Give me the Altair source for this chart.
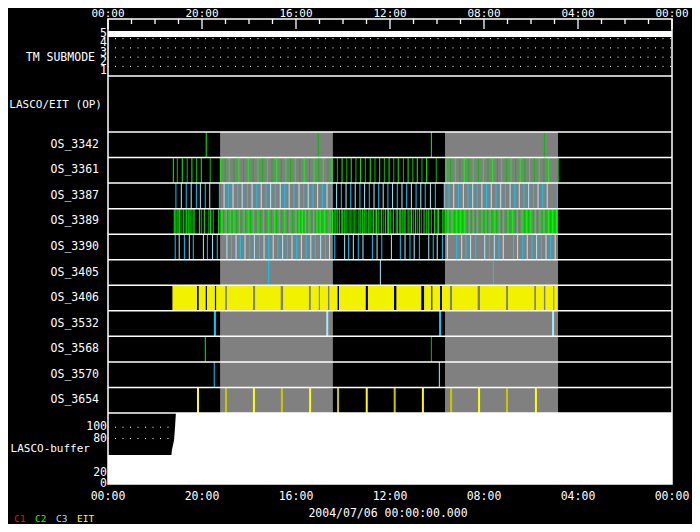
import altair as alt
import pandas as pd

# ---------------- data ----------------
major_hours = [0, 4, 8, 12, 16, 20, 24]
major_labels = ["00:00", "20:00", "16:00", "12:00", "08:00", "04:00", "00:00"]
minor_hours = [1, 2, 3, 5, 6, 7, 9, 10, 11, 13, 14, 15, 17, 18, 19, 21, 22, 23]

row_names = ["OS_3342", "OS_3361", "OS_3387", "OS_3389", "OS_3390", "OS_3405",
             "OS_3406", "OS_3532", "OS_3568", "OS_3570", "OS_3654"]
row_family = ["C2", "C2", "C3", "C2", "C3", "C3", "EIT", "C3", "C2", "C3", "EIT"]

os_3342 = [4.18, 8.95, 13.76, 18.57]
os_3361 = [2.78, 2.95, 3.16, 3.37, 3.57, 3.77, 3.97, 4.35, 4.78, 4.98, 5.16, 5.36, 5.57, 5.77,
           5.97, 6.18, 6.38, 6.58, 6.78, 6.98, 7.18, 7.37, 7.57, 7.77, 7.97, 8.16, 8.35, 8.57,
           8.77, 8.97, 9.16, 9.36, 9.54, 9.76, 9.96, 10.16, 10.35, 10.55, 10.75, 10.95, 11.16,
           11.36, 11.56, 11.76, 11.96, 12.16, 12.35, 12.57, 12.77, 12.97, 13.16, 13.36, 13.56,
           13.97, 14.38, 14.58, 14.78, 14.97, 15.16, 15.35, 15.54, 15.76, 15.97, 16.17, 16.37,
           16.57, 16.75, 16.95, 17.15, 17.35, 17.54, 17.74, 17.94, 18.14, 18.35, 18.55, 18.75,
           19.16]
os_3387 = [2.89, 3.12, 3.33, 3.54, 3.76, 3.93, 4.14, 4.33, 4.74, 4.94, 5.12, 5.32, 5.52, 5.71,
           5.93, 6.13, 6.33, 6.52, 6.72, 6.92, 7.12, 7.33, 7.52, 7.71, 7.91, 8.13, 8.33, 8.52,
           8.72, 8.92, 9.12, 9.32, 9.52, 9.73, 9.93, 10.13, 10.33, 10.52, 10.72, 10.92, 11.12,
           11.32, 11.52, 11.71, 11.91, 12.11, 12.31, 12.51, 12.71, 12.91, 13.11, 13.31, 13.50,
           13.72, 13.93, 14.31, 14.51, 14.71, 14.91, 15.12, 15.32, 15.52, 15.71, 15.91, 16.11,
           16.31, 16.51, 16.71, 16.91, 17.11, 17.31, 17.50, 17.70, 17.90, 18.10, 18.30, 18.50,
           18.69, 19.12]
os_3389 = [2.82, 2.88, 2.94, 2.99, 3.05, 3.11, 3.20, 3.28, 3.35, 3.43, 3.49, 3.54, 3.62, 3.67,
           3.89, 3.97, 4.10, 4.29, 4.37, 4.48, 4.71, 4.78, 4.85, 4.91, 5.03, 5.09, 5.20, 5.28,
           5.36, 5.48, 5.59, 5.66, 5.79, 5.86, 5.97, 6.07, 6.18, 6.30, 6.38, 6.50, 6.61, 6.72,
           6.84, 6.95, 7.08, 7.18, 7.29, 7.40, 7.52, 7.63, 7.74, 7.86, 8.00, 8.07, 8.13, 8.20,
           8.27, 8.34, 8.40, 8.48, 8.55, 8.68, 8.75, 8.84, 8.89, 8.97, 9.03, 9.11, 9.22, 9.31,
           9.45, 9.50, 9.56, 9.65, 9.70, 9.76, 9.84, 9.93, 9.99, 10.07, 10.13, 10.21, 10.30,
           10.38, 10.47, 10.55, 10.68, 10.75, 10.84, 10.92, 10.98, 11.09, 11.15, 11.23, 11.29,
           11.37, 11.43, 11.52, 11.63, 11.71, 11.80, 11.89, 11.94, 12.03, 12.14, 12.26, 12.31,
           12.40, 12.46, 12.54, 12.60, 12.65, 12.77, 12.85, 12.91, 12.99, 13.08, 13.16, 13.25,
           13.33, 13.45, 13.56, 13.65, 13.76, 13.90, 14.01, 14.06, 14.24, 14.30, 14.41, 14.47,
           14.55, 14.64, 14.75, 14.84, 14.92, 15.01, 15.09, 15.18, 15.29, 15.37, 15.46, 15.54,
           15.63, 15.71, 15.83, 15.91, 16.00, 16.09, 16.14, 16.26, 16.34, 16.46, 16.54, 16.65,
           16.74, 16.82, 16.94, 17.02, 17.11, 17.22, 17.33, 17.42, 17.50, 17.62, 17.73, 17.82,
           17.90, 17.99, 18.10, 18.18, 18.27, 18.38, 18.47, 18.55, 18.64, 18.75, 18.84, 18.92,
           19.01, 19.09]
os_3390 = [2.86, 3.03, 3.25, 3.46, 3.63, 4.06, 4.23, 4.45, 4.65, 5.06, 5.25, 5.45, 5.63, 5.83,
           6.03, 6.23, 6.44, 6.64, 6.84, 7.03, 7.23, 7.43, 7.63, 7.83, 8.03, 8.23, 8.43, 8.63,
           8.82, 9.05, 9.25, 9.43, 9.65, 10.07, 10.24, 10.44, 10.65, 10.85, 11.25, 11.45, 11.65,
           12.06, 12.44, 12.64, 12.85, 13.03, 13.25, 13.65, 13.84, 14.01, 14.23, 14.44, 14.84,
           15.05, 15.23, 15.43, 15.65, 16.03, 16.23, 16.44, 16.64, 16.82, 17.25, 17.43, 17.65,
           17.84, 18.04, 18.24, 18.44, 18.64, 18.84, 19.03]
os_3405 = [6.84, 11.59, 16.40]
os_3406_start = [2.74, 3.86, 4.21, 4.60, 5.06, 6.26, 7.45, 8.63, 9.02, 9.42, 9.83, 11.06, 12.27,
                 13.45, 13.80, 14.21, 14.64, 15.83, 17.02, 18.21, 18.61, 18.99]
os_3406_end = [3.79, 4.16, 4.55, 4.99, 6.17, 7.35, 8.55, 8.97, 9.36, 9.77, 10.97, 12.17, 13.33,
               13.76, 14.13, 14.55, 15.73, 16.94, 18.14, 18.55, 18.95, 19.14]
os_3532 = [4.55, 9.33, 14.13, 18.94]
os_3568 = [4.14, 13.76]
os_3570 = [4.52, 14.10]
os_3654 = [3.83, 5.02, 6.21, 7.40, 8.60, 9.79, 11.01, 12.20, 13.40, 14.60, 15.79, 16.98, 18.21]

row_events = {"OS_3342": os_3342, "OS_3361": os_3361, "OS_3387": os_3387,
              "OS_3389": os_3389, "OS_3390": os_3390, "OS_3405": os_3405,
              "OS_3532": os_3532, "OS_3568": os_3568, "OS_3570": os_3570,
              "OS_3654": os_3654}

shade_start = [4.77, 14.34]
shade_end = [9.57, 19.15]

submode_times = [0, 24]
submode_values = [5, 5]
submode_ticks = [1, 2, 3, 4, 5]
submode_grid = [1.5, 2.5, 3.5, 4.5]

buffer_times = [0, 2.70, 2.72, 2.81, 2.85, 2.89, 24]
buffer_values = [51, 51, 60, 77, 98, 125, 125]
buffer_ticks = [0, 20, 80, 100]
buffer_grid = [80, 100]

legend_names = ["C1", "C2", "C3", "EIT"]
date_label = "2004/07/06 00:00:00.000"

# ---------------- layout / style ----------------
W, H = 564, 465
TM_BOTTOM, OP_BOTTOM, OS_BOTTOM = 57, 113, 394
ROW_H = (OS_BOTTOM - OP_BOTTOM) / len(row_names)
FONT = "DejaVu Sans Mono"
palette = {"C2": ["#00ff00", "#00c000"], "C3": ["#00ccff", "#a8ecff"],
           "EIT": ["#ffff00", "#c8c800"]}
legend_colors = {"C1": "#ff0000", "C2": "#00ff00", "C3": "#a0e4ff", "EIT": "#ffff00"}

X = alt.Scale(domain=[0, 24], nice=False, zero=False)
YT = alt.Scale(domain=[0, H], range=[0, H], nice=False, zero=False)
YSUB = alt.Scale(domain=[1, 5], range=[52, 15], nice=False, zero=False)
YBUF = alt.Scale(domain=[0, 125], range=[H, OS_BOTTOM], nice=False, zero=False)

# events table
ev = []
for i, name in enumerate(row_names):
    if name not in row_events:
        continue
    fam = row_family[i]
    y0 = OP_BOTTOM + i * ROW_H
    w = 2 if name in ("OS_3654", "OS_3532") else 1.0
    for j, t in enumerate(row_events[name]):
        ev.append({"t": t, "y0": y0, "y1": y0 + ROW_H, "c": palette[fam][j % 2], "w": w})
ev_df = pd.DataFrame(ev)

i3406 = row_names.index("OS_3406")
band_df = pd.DataFrame({"s": os_3406_start, "e": os_3406_end,
                        "y0": OP_BOTTOM + i3406 * ROW_H, "y1": OP_BOTTOM + (i3406 + 1) * ROW_H})

shade_df = pd.DataFrame({"s": shade_start, "e": shade_end, "y0": OP_BOTTOM, "y1": OS_BOTTOM})

sep_y = [TM_BOTTOM, OP_BOTTOM] + [OP_BOTTOM + k * ROW_H for k in range(1, len(row_names) + 1)]
sep_df = pd.DataFrame({"y": sep_y})

labels = [{"name": "TM SUBMODE", "x": -13, "y": 39, "fs": 11.5},
          {"name": "LASCO/EIT (OP)", "x": -6, "y": 86, "fs": 11},
          {"name": "LASCO-buffer", "x": -18, "y": 430, "fs": 11}]
for i, name in enumerate(row_names):
    labels.append({"name": name, "x": -9, "y": OP_BOTTOM + (i + 0.5) * ROW_H, "fs": 11.5})
lab_df = pd.DataFrame(labels)

xenc = lambda f: alt.X(f, type="quantitative", scale=X, axis=None)

gray = alt.Chart(shade_df).mark_rect(color="#808080").encode(
    x=xenc("s"), x2="e", y=alt.Y("y0:Q", scale=YT, axis=None), y2="y1")

band = alt.Chart(band_df).mark_rect(color="#f2f200").encode(
    x=xenc("s"), x2="e", y=alt.Y("y0:Q", scale=YT, axis=None), y2="y1")

events = alt.Chart(ev_df).mark_rule().encode(
    x=xenc("t"), y=alt.Y("y0:Q", scale=YT, axis=None), y2="y1",
    color=alt.Color("c:N", scale=None), strokeWidth=alt.StrokeWidth("w:Q", scale=None))

seps = alt.Chart(sep_df).mark_rule(color="white", strokeWidth=1.5).encode(
    y=alt.Y("y:Q", scale=YT, axis=None), x=alt.value(0), x2=alt.value(W))

sub_grid = alt.Chart(pd.DataFrame({"v": submode_grid})).mark_rule(
    color="white", strokeDash=[1, 6.5], strokeDashOffset=-7, strokeWidth=1).encode(
    y=alt.Y("v:Q", scale=YSUB, axis=None), x=alt.value(0), x2=alt.value(W))

sub_line = alt.Chart(pd.DataFrame({"t": submode_times, "v": submode_values})).mark_line(
    color="white", strokeWidth=6, strokeCap="butt").encode(
    x=xenc("t"), y=alt.Y("v:Q", scale=YSUB, axis=None))

sub_lab = alt.Chart(pd.DataFrame({"v": submode_ticks})).mark_text(
    align="right", baseline="middle", color="white", font=FONT, fontSize=11.5).encode(
    x=alt.value(-1), y=alt.Y("v:Q", scale=YSUB, axis=None), text="v:Q")

buf_grid = alt.Chart(pd.DataFrame({"v": buffer_grid})).mark_rule(
    color="white", strokeDash=[1, 6.5], strokeDashOffset=-7, strokeWidth=1).encode(
    y=alt.Y("v:Q", scale=YBUF, axis=None), x=alt.value(0), x2=alt.value(W))

buf_area = alt.Chart(pd.DataFrame({"t": buffer_times, "v": buffer_values})).mark_area(
    color="white", opacity=1).encode(
    x=xenc("t"), y=alt.Y("v:Q", scale=YBUF, axis=None))

buf_lab = alt.Chart(pd.DataFrame({"v": buffer_ticks})).mark_text(
    align="right", baseline="middle", color="white", font=FONT, fontSize=11.5).encode(
    x=alt.value(-1), y=alt.Y("v:Q", scale=YBUF, axis=None), text="v:Q")

major_df = pd.DataFrame({"t": major_hours, "lab": major_labels})
tick_major = alt.Chart(major_df).mark_rule(color="white", strokeWidth=1.3).encode(
    x=xenc("t"), y=alt.value(0), y2=alt.value(10))
tick_minor = alt.Chart(pd.DataFrame({"t": minor_hours})).mark_rule(
    color="white", strokeWidth=1.3).encode(x=xenc("t"), y=alt.value(0), y2=alt.value(5))

top_lab = alt.Chart(major_df).mark_text(
    baseline="middle", color="white", font=FONT, fontSize=11).encode(
    x=xenc("t"), y=alt.value(-5.5), text="lab:N")
bot_lab = alt.Chart(major_df).mark_text(
    baseline="middle", color="white", font=FONT, fontSize=11.5).encode(
    x=xenc("t"), y=alt.value(478), text="lab:N")

row_lab = alt.Chart(lab_df).mark_text(
    align="right", baseline="middle", color="white", font=FONT).encode(
    x=alt.X("x:Q", scale=None), y=alt.Y("y:Q", scale=YT, axis=None), text="name:N",
    size=alt.Size("fs:Q", scale=None))

leg_df = pd.DataFrame({"name": legend_names,
                       "x": [-94 + 21 * k for k in range(len(legend_names))],
                       "c": [legend_colors[n] for n in legend_names]})
legend = alt.Chart(leg_df).mark_text(
    align="left", baseline="middle", font=FONT, fontSize=9.5).encode(
    x=alt.X("x:Q", scale=None), y=alt.value(500), text="name:N",
    color=alt.Color("c:N", scale=None))

date = alt.Chart(pd.DataFrame({"d": [date_label]})).mark_text(
    align="center", baseline="middle", color="white", font=FONT, fontSize=11.5).encode(
    x=alt.value(W / 2 - 2), y=alt.value(495), text="d:N")

chart = alt.layer(
    gray, band, events, seps, sub_grid, sub_line, sub_lab, buf_grid, buf_area, buf_lab,
    tick_major, tick_minor, top_lab, bot_lab, row_lab, legend, date
).resolve_scale(y="independent", color="independent", strokeWidth="independent",
                size="independent").properties(
    width=W, height=H,
    autosize=alt.AutoSizeParams(type="none"),
    padding={"left": 100, "top": 11, "right": 20, "bottom": 40},
).configure(background="black").configure_view(stroke="white", strokeWidth=1.5)

chart.save("out.html", embed_options={"renderer": "svg", "actions": False})
